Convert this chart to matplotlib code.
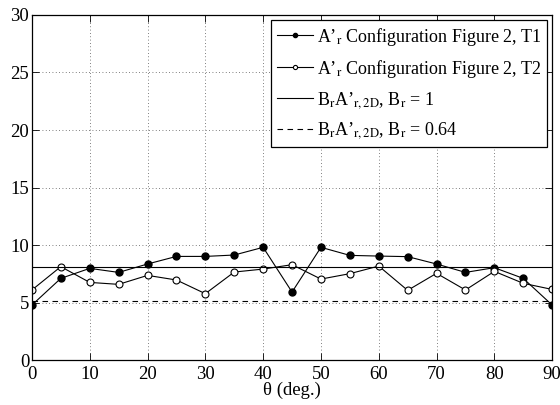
import matplotlib
matplotlib.use("Agg")
import matplotlib.pyplot as plt
import numpy as np

theta = [0, 5, 10, 15, 20, 25, 30, 35, 40, 45, 50, 55, 60, 65, 70, 75, 80, 85, 90]
t1 = [4.78, 7.1, 7.97, 7.62, 8.35, 9.01, 9.01, 9.13, 9.8, 5.91, 9.8, 9.1, 9.04, 8.99, 8.35, 7.62, 8.03, 7.1, 4.78]
t2 = [6.09, 8.12, 6.75, 6.58, 7.36, 6.96, 5.77, 7.65, 7.91, 8.29, 7.04, 7.51, 8.17, 6.06, 7.54, 6.09, 7.71, 6.67, 6.14]
a2d = 8.06
br_values = [1.0, 0.64]

xticks = [0, 10, 20, 30, 40, 50, 60, 70, 80, 90]
yticks = [0, 5, 10, 15, 20, 25, 30]

plt.rcParams['font.family'] = ['Liberation Serif', 'DejaVu Serif']
plt.rcParams['mathtext.fontset'] = 'stix'

fig = plt.figure(figsize=(5.6, 4.05), dpi=100)
ax = fig.add_axes([0.057, 0.111, 0.929, 0.852])

ax.plot(theta, t1, '-o', color='black', lw=0.8, ms=5, mfc='black', mec='black',
        label="A’$_{\\mathrm{r}}$ Configuration Figure 2, T1")
ax.plot(theta, t2, '-o', color='black', lw=0.8, ms=5, mfc='white', mec='black', mew=0.8,
        label="A’$_{\\mathrm{r}}$ Configuration Figure 2, T2")
ax.axhline(a2d * br_values[0], color='black', lw=0.8,
           label="B$_{\\mathrm{r}}$A’$_{\\mathrm{r,2D}}$, B$_{\\mathrm{r}}$ = 1")
ax.axhline(a2d * br_values[1], color='black', lw=0.8, ls=(0, (5, 4)),
           label="B$_{\\mathrm{r}}$A’$_{\\mathrm{r,2D}}$, B$_{\\mathrm{r}}$ = 0.64")

ax.set_xlim(0, 90)
ax.set_ylim(0, 30)
ax.set_xticks(xticks)
ax.set_yticks(yticks)
ax.tick_params(direction='in', top=True, right=True, labelsize=13.5, length=5, width=0.6)
ax.tick_params(axis='y', pad=2)
ax.tick_params(axis='x', pad=4)
ax.grid(True, ls=(0, (1, 3)), color='#555555', lw=0.6)
ax.set_xlabel("θ (deg.)", fontsize=13.5, labelpad=-1)
for s in ax.spines.values():
    s.set_linewidth(0.9)

leg = ax.legend(loc='upper right', fontsize=13, frameon=True, fancybox=False,
                edgecolor='black', framealpha=1, borderaxespad=0.3,
                handlelength=2.0, handletextpad=0.2, labelspacing=0.55, borderpad=0.3,
                markerscale=0.6)
leg.get_frame().set_linewidth(0.9)

fig.savefig("out.png", dpi=100)
